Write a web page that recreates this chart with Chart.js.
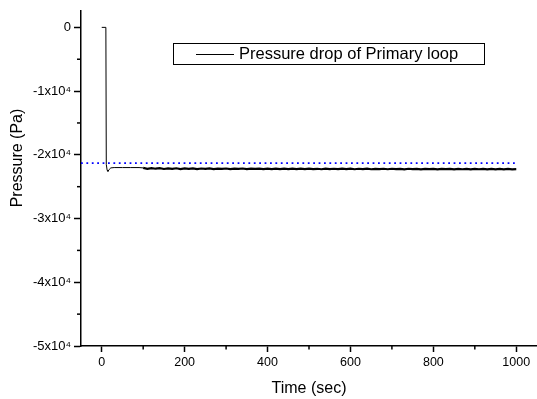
<!DOCTYPE html>
<html lang="en">
<head>
    <meta charset="UTF-8">
    <title>Pressure drop of Primary loop</title>
    <script src="https://cdn.jsdelivr.net/npm/chart.js"></script>
    <style>
        html, body { margin: 0; padding: 0; background: #fff; }
        #wrap { width: 537px; height: 399px; }
    </style>
</head>
<body>
    <div id="wrap"><canvas id="pressureChart"></canvas></div>
    <script>
        // time (s) and pressure (Pa)
        const startTimes = [0, 10, 11, 13, 15, 18, 22, 30, 50, 70, 90];
        const startPressure = [0, 0, -21500, -22400, -22600, -22300, -22050, -22000, -22000, -22000, -22000];
        const noisyTimes = [100, 110, 120, 130, 140, 150, 160, 170, 180, 190,
            200, 210, 220, 230, 240, 250, 260, 270, 280, 290,
            300, 310, 320, 330, 340, 350, 360, 370, 380, 390,
            400, 410, 420, 430, 440, 450, 460, 470, 480, 490,
            500, 510, 520, 530, 540, 550, 560, 570, 580, 590,
            600, 610, 620, 630, 640, 650, 660, 670, 680, 690,
            700, 710, 720, 730, 740, 750, 760, 770, 780, 790,
            800, 810, 820, 830, 840, 850, 860, 870, 880, 890,
            900, 910, 920, 930, 940, 950, 960, 970, 980, 990, 1000];
        const noisyPressure = [-22050, -22200, -22080, -22180, -22100, -22220, -22120, -22200, -22110, -22230,
            -22140, -22210, -22130, -22240, -22150, -22200, -22140, -22250, -22160, -22210,
            -22150, -22240, -22160, -22220, -22150, -22250, -22170, -22220, -22160, -22240,
            -22170, -22230, -22160, -22250, -22180, -22230, -22170, -22240, -22180, -22250,
            -22170, -22230, -22190, -22260, -22170, -22240, -22190, -22250, -22180, -22240,
            -22180, -22260, -22190, -22240, -22180, -22260, -22200, -22240, -22190, -22260,
            -22190, -22250, -22200, -22270, -22190, -22240, -22200, -22270, -22210, -22250,
            -22200, -22270, -22210, -22250, -22200, -22270, -22210, -22260, -22210, -22280,
            -22200, -22260, -22220, -22280, -22210, -22270, -22220, -22280, -22220, -22270, -22240];
        const refTimes = [-50, 1000];
        const refPressure = [-21300, -21300];

        const xTickValues = [0, 200, 400, 600, 800, 1000];
        const xMinorTicks = [100, 300, 500, 700, 900];
        const yTickValues = [0, -10000, -20000, -30000, -40000, -50000];
        const yTickLabels = ['0', '-1x10\u2074', '-2x10\u2074', '-3x10\u2074', '-4x10\u2074', '-5x10\u2074'];
        const yMinorTicks = [-5000, -15000, -25000, -35000, -45000];

        const seriesLabel = 'Pressure drop of Primary loop';
        const yTitle = 'Pressure (Pa)';
        const fontFamily = '"Liberation Sans", Arial, sans-serif';

        const mainPoints = startTimes.map((t, i) => ({ x: t, y: startPressure[i] }))
            .concat(noisyTimes.map((t, i) => ({ x: t, y: noisyPressure[i] })));
        const refPoints = refTimes.map((t, i) => ({ x: t, y: refPressure[i] }));

        // short minor ticks, y title and the boxed legend inside the plot
        const extrasPlugin = {
            id: 'extras',
            afterDraw(chart) {
                const ctx = chart.ctx;
                const xs = chart.scales.x, ys = chart.scales.y;
                ctx.save();
                ctx.strokeStyle = '#000';
                ctx.lineWidth = 1.5;
                xMinorTicks.forEach(v => {
                    const px = xs.getPixelForValue(v);
                    ctx.beginPath();
                    ctx.moveTo(px, xs.top);
                    ctx.lineTo(px, xs.top + 3.5);
                    ctx.stroke();
                });
                yMinorTicks.forEach(v => {
                    const py = ys.getPixelForValue(v);
                    ctx.beginPath();
                    ctx.moveTo(ys.right, py);
                    ctx.lineTo(ys.right - 4, py);
                    ctx.stroke();
                });

                ctx.fillStyle = '#000';
                ctx.textBaseline = 'middle';

                // y axis title
                ctx.save();
                ctx.translate(18, 158);
                ctx.rotate(-Math.PI / 2);
                ctx.textAlign = 'center';
                ctx.font = '16px ' + fontFamily;
                ctx.fillText(yTitle, 0, 0);
                ctx.restore();

                // legend box
                ctx.lineWidth = 1;
                ctx.strokeRect(173.5, 43.5, 311, 21);
                ctx.beginPath();
                ctx.moveTo(196, 54.5);
                ctx.lineTo(234, 54.5);
                ctx.stroke();
                ctx.font = '16.5px ' + fontFamily;
                ctx.fillText(seriesLabel, 239, 54.5);
                ctx.restore();
            }
        };

        new Chart(document.getElementById('pressureChart'), {
            type: 'scatter',
            data: {
                datasets: [{
                    label: seriesLabel,
                    data: mainPoints,
                    showLine: true,
                    borderColor: '#000',
                    borderWidth: 1,
                    pointRadius: 0,
                    tension: 0,
                    segment: {
                        borderWidth: c => (c.p0.parsed.x >= 100 ? 2.2 : 1)
                    }
                }, {
                    label: 'reference',
                    data: refPoints,
                    showLine: true,
                    borderColor: '#0000ff',
                    borderWidth: 1.6,
                    borderDash: [1.8, 3.6],
                    pointRadius: 0
                }]
            },
            options: {
                responsive: true,
                maintainAspectRatio: false,
                animation: false,
                layout: { padding: { top: 5, right: 0, left: 0, bottom: 0 } },
                plugins: {
                    legend: { display: false },
                    tooltip: { enabled: false }
                },
                scales: {
                    x: {
                        type: 'linear',
                        min: -50,
                        max: 1050,
                        afterBuildTicks: s => { s.ticks = xTickValues.map(v => ({ value: v })); },
                        afterFit: s => { s.height = 53; },
                        border: { display: true, color: '#000', width: 1.5 },
                        grid: { display: true, drawOnChartArea: false, drawTicks: true, tickLength: 6, color: '#000', tickWidth: 1.5 },
                        ticks: {
                            color: '#000',
                            padding: 3,
                            maxRotation: 0,
                            font: { family: fontFamily, size: 12.5 },
                            callback: v => String(v)
                        },
                        title: {
                            display: true,
                            text: 'Time (sec)',
                            color: '#000',
                            font: { family: fontFamily, size: 16 },
                            padding: { top: 0, bottom: 1 }
                        }
                    },
                    y: {
                        type: 'linear',
                        min: -50000,
                        max: 2600,
                        afterBuildTicks: s => { s.ticks = yTickValues.map(v => ({ value: v })); },
                        afterFit: s => { s.width = 81; },
                        border: { display: true, color: '#000', width: 1.5 },
                        grid: { display: true, drawOnChartArea: false, drawTicks: true, tickLength: 7, color: '#000', tickWidth: 1.5 },
                        ticks: {
                            color: '#000',
                            padding: 3,
                            font: { family: fontFamily, size: 13 },
                            callback: v => yTickLabels[yTickValues.indexOf(v)]
                        },
                        title: { display: false }
                    }
                }
            },
            plugins: [extrasPlugin]
        });
    </script>
</body>
</html>
